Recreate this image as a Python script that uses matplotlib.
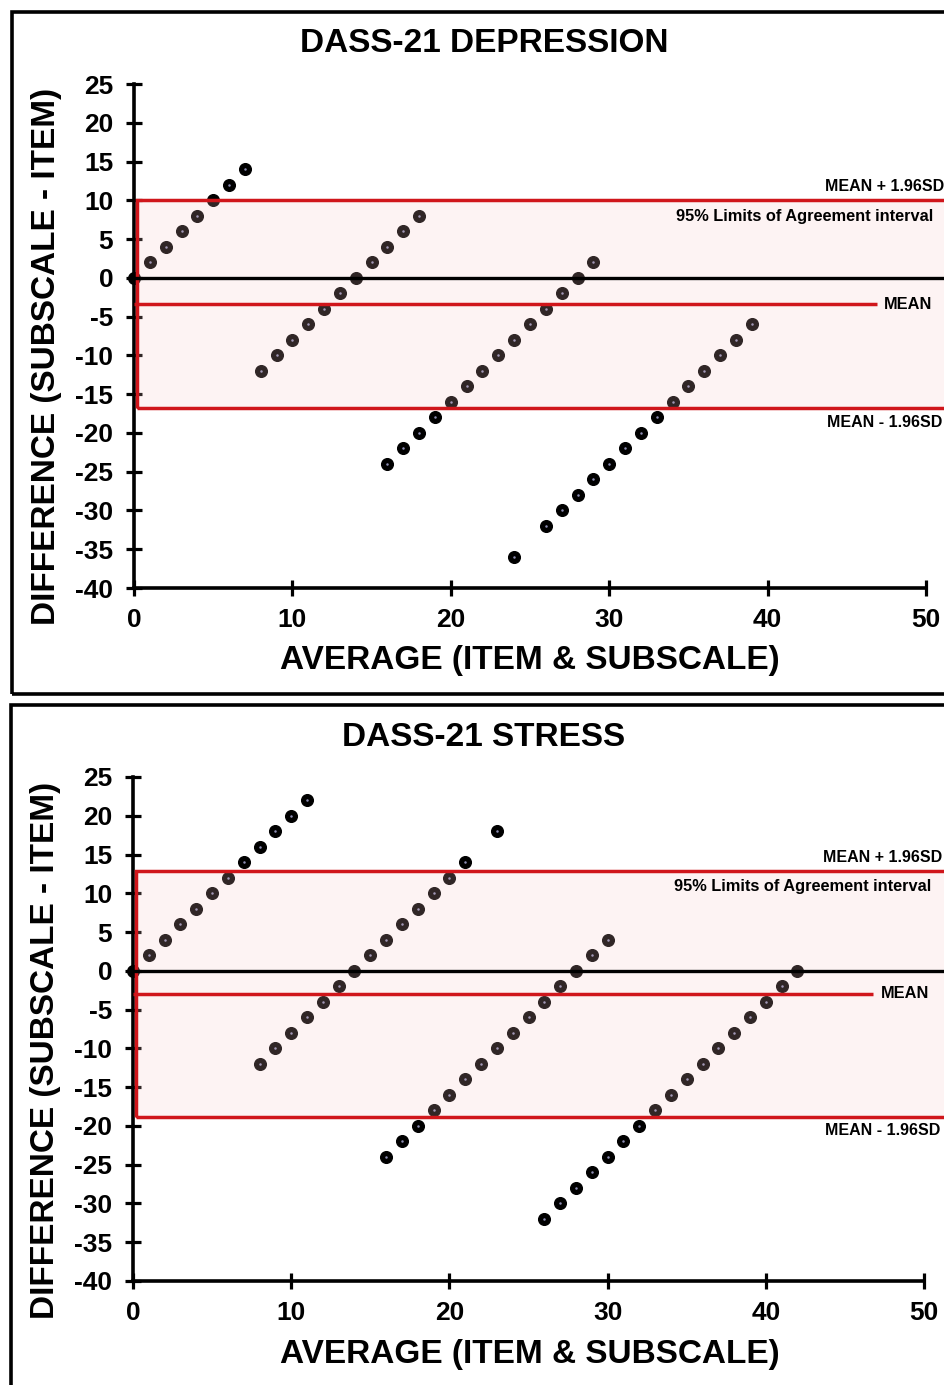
import matplotlib
matplotlib.use("Agg")
import matplotlib.pyplot as plt
from matplotlib.patches import Rectangle
import numpy as np

plt.rcParams['font.family'] = ['Liberation Sans', 'DejaVu Sans']
plt.rcParams['font.weight'] = 'bold'
plt.rcParams['axes.unicode_minus'] = False

# ---- data -------------------------------------------------------------
dep_avg = [0, 1, 2, 3, 4, 5, 6, 7,
           8, 9, 10, 11, 12, 13, 14, 15, 16, 17, 18,
           16, 17, 18, 19, 20, 21, 22, 23, 24, 25, 26, 27, 28, 29,
           24, 26, 27, 28, 29, 30, 31, 32, 33, 34, 35, 36, 37, 38, 39]
dep_diff = [0, 2, 4, 6, 8, 10, 12, 14,
            -12, -10, -8, -6, -4, -2, 0, 2, 4, 6, 8,
            -24, -22, -20, -18, -16, -14, -12, -10, -8, -6, -4, -2, 0, 2,
            -36, -32, -30, -28, -26, -24, -22, -20, -18, -16, -14, -12, -10, -8, -6]
dep_mean = -3.4
dep_sd = 6.85

str_avg = [0, 1, 2, 3, 4, 5, 6, 7, 8, 9, 10, 11,
           8, 9, 10, 11, 12, 13, 14, 15, 16, 17, 18, 19, 20, 21, 23,
           16, 17, 18, 19, 20, 21, 22, 23, 24, 25, 26, 27, 28, 29, 30,
           26, 27, 28, 29, 30, 31, 32, 33, 34, 35, 36, 37, 38, 39, 40, 41, 42]
str_diff = [0, 2, 4, 6, 8, 10, 12, 14, 16, 18, 20, 22,
            -12, -10, -8, -6, -4, -2, 0, 2, 4, 6, 8, 10, 12, 14, 18,
            -24, -22, -20, -18, -16, -14, -12, -10, -8, -6, -4, -2, 0, 2, 4,
            -32, -30, -28, -26, -24, -22, -20, -18, -16, -14, -12, -10, -8, -6, -4, -2, 0]
str_mean = -2.95
str_sd = 8.1

x_ticks = [0, 10, 20, 30, 40, 50]
y_ticks = [25, 20, 15, 10, 5, 0, -5, -10, -15, -20, -25, -30, -35, -40]

titles = ["DASS-21 DEPRESSION", "DASS-21 STRESS"]
x_label = "AVERAGE (ITEM & SUBSCALE)"
y_label = "DIFFERENCE (SUBSCALE - ITEM)"

# ---- figure -----------------------------------------------------------
W, H = 945, 1385
fig = plt.figure(figsize=(W / 100, H / 100), dpi=100)
fig.patch.set_facecolor('white')

RED = '#d0161b'
BAND = (0.96, 0.765, 0.765)


def px_to_fig(x, y):
    return x / W, 1 - y / H


def draw_panel(left_px, bottom_px, top_px, x50_px, avg, diff, mean, sd,
               title, title_y, xlab_y, ylab_x, ylab_y, mean_end):
    ax_w = W - left_px
    ax_h = bottom_px - top_px
    ax = fig.add_axes([left_px / W, 1 - bottom_px / H, ax_w / W, ax_h / H])
    unit = (x50_px - left_px) / 50.0
    ax.set_xlim(0, ax_w / unit)
    ax.set_ylim(-40, 25)
    ax.patch.set_alpha(0)

    upper = mean + 1.96 * sd
    lower = mean - 1.96 * sd

    # points
    ax.plot(avg, diff, 'o', color='black', markersize=8.4, zorder=2,
            clip_on=False)
    ax.plot(avg, diff, '.', color='#8e8eb4', markersize=1.6, zorder=2.1,
            clip_on=False)

    # limits of agreement band
    ax.add_patch(Rectangle((0.2, lower), 60, upper - lower, facecolor=BAND,
                           alpha=0.2, edgecolor='none', zorder=3))
    ax.add_patch(Rectangle((0.2, lower), 60, upper - lower, facecolor='none',
                           edgecolor=RED, linewidth=2.5, zorder=4))
    ax.plot([0, mean_end], [mean, mean], color=RED, linewidth=2.5, zorder=4,
            solid_capstyle='butt')
    ax.axhline(0, color='black', linewidth=2.4, zorder=4)

    # annotations
    ax.annotate("MEAN + 1.96SD", xy=(43.6, upper), xytext=(0, 9.5),
                textcoords='offset points', fontsize=11.5, fontweight='bold',
                ha='left', va='center', zorder=5)
    ax.annotate("95% Limits of Agreement interval", xy=(34.2, upper),
                xytext=(0, -11.5), textcoords='offset points', fontsize=11.8,
                fontweight='bold', ha='left', va='center', zorder=5)
    ax.annotate("MEAN", xy=(mean_end + 0.45, mean), xytext=(0, 0),
                textcoords='offset points', fontsize=11.8, fontweight='bold',
                ha='left', va='center', zorder=5)
    ax.annotate("MEAN - 1.96SD", xy=(43.75, lower), xytext=(0, -10),
                textcoords='offset points', fontsize=11.5, fontweight='bold',
                ha='left', va='center', zorder=5)

    # axes styling
    for s in ['top', 'right']:
        ax.spines[s].set_visible(False)
    ax.spines['left'].set_linewidth(2.6)
    ax.spines['bottom'].set_linewidth(2.6)
    ax.spines['bottom'].set_bounds(0, 50)
    ax.spines['left'].set_zorder(3.5)
    ax.set_xticks(x_ticks)
    ax.set_yticks(y_ticks)
    ax.tick_params(axis='both', direction='inout', length=12, width=2.3,
                   labelsize=19)
    ax.tick_params(axis='y', pad=9)
    ax.tick_params(axis='x', pad=8.5)
    for lab in ax.get_xticklabels() + ax.get_yticklabels():
        lab.set_fontweight('bold')

    fig.text(*px_to_fig(484, title_y), title, fontsize=24, fontweight='bold',
             ha='center', va='center')
    fig.text(*px_to_fig(530, xlab_y), x_label, fontsize=24, fontweight='bold',
             ha='center', va='center')
    fig.text(*px_to_fig(ylab_x, ylab_y), y_label, fontsize=24,
             fontweight='bold', ha='center', va='center', rotation=90)
    return ax


draw_panel(134, 588, 84, 926, dep_avg, dep_diff, dep_mean, dep_sd,
           titles[0], 43, 660, 47, 356, 46.9)
draw_panel(133, 1281, 777, 924, str_avg, str_diff, str_mean, str_sd,
           titles[1], 737, 1354, 46, 1050, 46.8)

# panel frames
frame_lw = 2.6
fig.add_artist(Rectangle(px_to_fig(11.5, 694), (W + 20) / W, (694 - 11.5) / H,
                         transform=fig.transFigure, facecolor='none',
                         edgecolor='black', linewidth=frame_lw))
fig.add_artist(Rectangle(px_to_fig(10.5, H + 20), (W + 20) / W,
                         (H + 20 - 705) / H, transform=fig.transFigure,
                         facecolor='none', edgecolor='black',
                         linewidth=frame_lw))

fig.savefig("out.png", dpi=100)
